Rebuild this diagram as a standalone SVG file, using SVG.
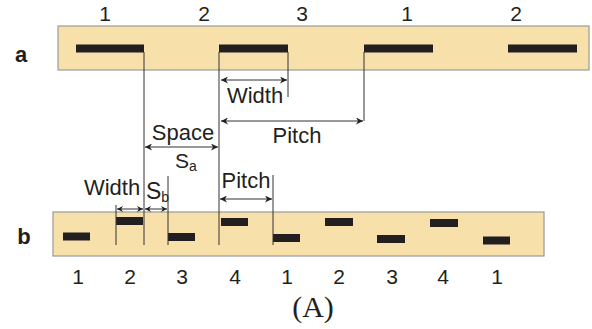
<svg xmlns="http://www.w3.org/2000/svg" width="592" height="329" viewBox="0 0 592 329">
<style>
.band{fill:#F8E0AB;stroke:#9a9a9a;stroke-width:1.2}
.bar{fill:#231f20}
.ln{stroke:#333;stroke-width:1;fill:none}
.t{font-family:"Liberation Sans",Arial,sans-serif;fill:#231f20}
.n{font-size:21px;text-anchor:middle}
.lbl{font-size:22px;font-weight:bold;text-anchor:middle}
.d{font-size:22px;text-anchor:middle}
</style>
<defs>
<marker id="ah" viewBox="0 0 10 10" refX="10" refY="5" markerWidth="9" markerHeight="7" markerUnits="userSpaceOnUse" orient="auto-start-reverse">
<path d="M0,0 L10,5 L0,10 L3,5 z" fill="#231f20"/>
</marker>
<marker id="as" viewBox="0 0 10 10" refX="10" refY="5" markerWidth="7" markerHeight="6" markerUnits="userSpaceOnUse" orient="auto-start-reverse">
<path d="M0,0 L10,5 L0,10 L3,5 z" fill="#231f20"/>
</marker>
</defs>

<g id="rowA">
<rect class="band" x="58" y="26" width="531" height="44"/>
<rect class="bar" x="76" y="44.5" width="68" height="8"/>
<rect class="bar" x="219" y="44.5" width="69" height="8"/>
<rect class="bar" x="364" y="44.5" width="69" height="8"/>
<rect class="bar" x="508" y="44.5" width="69" height="8"/>
<text class="t lbl" x="21" y="62">a</text>
<text class="t n" x="105" y="20.5">1</text>
<text class="t n" x="204" y="20.5">2</text>
<text class="t n" x="302" y="20.5">3</text>
<text class="t n" x="407" y="20.5">1</text>
<text class="t n" x="516" y="20.5">2</text>
</g>

<g id="rowB">
<rect class="band" x="53" y="212" width="491" height="44"/>
<rect class="bar" x="63" y="232.5" width="27" height="8"/>
<rect class="bar" x="116" y="217" width="27" height="8"/>
<rect class="bar" x="168" y="233" width="27" height="8"/>
<rect class="bar" x="221" y="218" width="27" height="8"/>
<rect class="bar" x="273" y="234" width="27" height="8"/>
<rect class="bar" x="325" y="218" width="28" height="8"/>
<rect class="bar" x="377" y="235" width="28" height="8"/>
<rect class="bar" x="430" y="219" width="28" height="8"/>
<rect class="bar" x="483" y="236.5" width="27" height="8"/>
<text class="t lbl" x="24" y="244">b</text>
<text class="t n" x="78" y="283.5">1</text>
<text class="t n" x="130" y="283.5">2</text>
<text class="t n" x="182" y="283.5">3</text>
<text class="t n" x="235" y="283.5">4</text>
<text class="t n" x="287" y="283.5">1</text>
<text class="t n" x="339" y="283.5">2</text>
<text class="t n" x="392" y="283.5">3</text>
<text class="t n" x="443" y="283.5">4</text>
<text class="t n" x="497" y="283.5">1</text>
</g>

<g id="connectors">
<line class="ln" x1="144" y1="52" x2="144" y2="245"/>
<line class="ln" x1="219" y1="52" x2="219" y2="245"/>
<line class="ln" x1="288" y1="52" x2="288" y2="97"/>
<line class="ln" x1="364" y1="52" x2="364" y2="121"/>
<line class="ln" x1="116" y1="205" x2="116" y2="245"/>
<line class="ln" x1="168" y1="176" x2="168" y2="245"/>
<line class="ln" x1="273" y1="175" x2="273" y2="245"/>
<line class="ln" x1="221" y1="80" x2="287" y2="80" marker-start="url(#ah)" marker-end="url(#ah)"/>
<line class="ln" x1="221" y1="121" x2="363" y2="121" marker-start="url(#ah)" marker-end="url(#ah)"/>
<line class="ln" x1="145" y1="147" x2="218" y2="147" marker-start="url(#ah)" marker-end="url(#ah)"/>
<line class="ln" x1="117" y1="209" x2="143" y2="209" marker-start="url(#as)" marker-end="url(#as)"/>
<line class="ln" x1="145" y1="209" x2="167" y2="209" marker-start="url(#as)" marker-end="url(#as)"/>
<line class="ln" x1="220" y1="199" x2="272" y2="199" marker-start="url(#ah)" marker-end="url(#ah)"/>
</g>

<g id="labels">
<text class="t d" x="255" y="103">Width</text>
<text class="t d" x="297" y="143">Pitch</text>
<text class="t d" x="183" y="140">Space</text>
<text class="t" x="175" y="168" font-size="21">S<tspan font-size="14" dy="3">a</tspan></text>
<text class="t d" x="112" y="195">Width</text>
<text class="t" x="146" y="199" font-size="23">S<tspan font-size="14" dy="3">b</tspan></text>
<text class="t d" x="246" y="188">Pitch</text>
<text x="313" y="317" font-family="'Liberation Serif','Times New Roman',serif" font-size="30" text-anchor="middle" fill="#231f20">(A)</text>
</g>
</svg>
